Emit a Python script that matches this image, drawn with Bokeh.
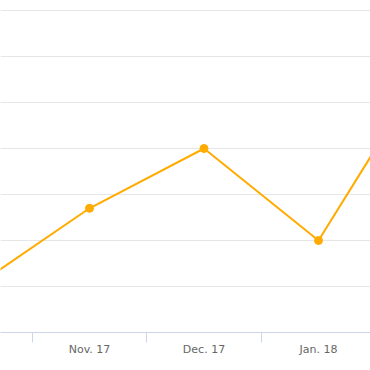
from bokeh.plotting import figure
from bokeh.models import FixedTicker, Range1d
from bokeh.embed import file_html
from bokeh.resources import INLINE

# Data
categories = ["Oct. 17", "Nov. 17", "Dec. 17", "Jan. 18", "Feb. 18"]
values = [10, 27, 40, 20, 60]
grid_values = [10, 20, 30, 40, 50, 60, 70]

xs = list(range(len(categories)))

p = figure(width=370, height=370, output_backend="svg", toolbar_location=None,
           x_range=Range1d(0.2227, 3.454), y_range=Range1d(0, 72.17),
           min_border_left=0, min_border_right=0, min_border_top=0, min_border_bottom=38)
p.outline_line_color = None
p.background_fill_color = "white"
p.border_fill_color = "white"

p.xgrid.visible = False
p.yaxis.visible = False
p.ygrid.ticker = FixedTicker(ticks=grid_values)
p.ygrid.grid_line_color = "#e6e6e6"
p.ygrid.grid_line_width = 1

ax = p.xaxis[0]
ax.ticker = FixedTicker(ticks=[1, 2, 3], minor_ticks=[0.5, 1.5, 2.5, 3.5])
ax.major_label_overrides = {i: c for i, c in enumerate(categories)}
ax.axis_line_color = "#ccd6eb"
ax.axis_line_width = 1
ax.major_tick_line_color = None
ax.major_tick_out = 0
ax.major_tick_in = 0
ax.minor_tick_line_color = "#ccd6eb"
ax.minor_tick_out = 10
ax.minor_tick_in = 0
ax.major_label_text_font = "DejaVu Sans"
ax.major_label_text_font_size = "11px"
ax.major_label_text_color = "#666666"
ax.major_label_standoff = 0

color = "#ffab00"
p.line(xs, values, line_color=color, line_width=2)
p.scatter(xs, values, size=8, fill_color=color, line_color=color)

open("out.html", "w").write(file_html(p, INLINE))
